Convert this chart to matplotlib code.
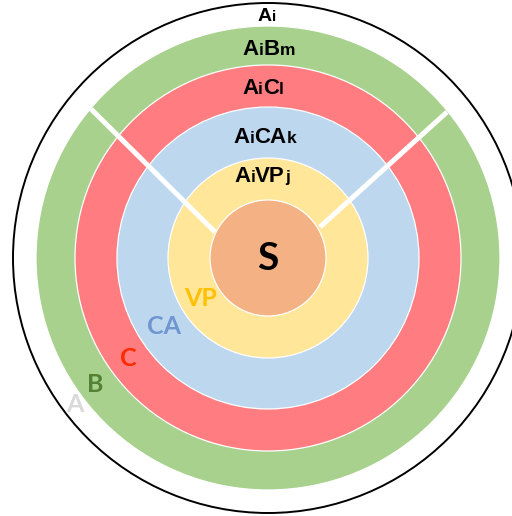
import matplotlib
matplotlib.use("Agg")
import matplotlib.pyplot as plt
from matplotlib.patches import Circle

# rings, outer to inner (radius in px)
ring_radii = [232, 193, 151, 100, 58]
ring_colors = ["#A9D18E", "#FF7C80", "#BDD7EE", "#FFE699", "#F4B183"]

# ring titles: (big part, small part) pairs and baseline y
titles = [
    [("A", "i")],
    [("A", "i"), ("B", "m")],
    [("A", "i"), ("C", "l")],
    [("A", "i"), ("CA", "k")],
    [("A", "i"), ("VP", "j")],
]
title_pos = [(267, 21), (269, 55), (263, 94), (265, 143), (262, 182)]
title_size = [14, 16, 16, 16, 16]

# side labels
side_labels = ["VP", "CA", "C", "B", "A"]
side_pos = [(201, 299), (164, 326), (128, 358), (95, 384), (75, 405)]
side_colors = ["#FFC000", "#7096D1", "#FF2A00", "#548235", "#D9D9D9"]

cx, cy = 268, 258
outer_r = 255

fig = plt.figure(figsize=(5.12, 5.16), dpi=100)
ax = fig.add_axes([0, 0, 1, 1])
ax.set_xlim(0, 512)
ax.set_ylim(516, 0)
ax.set_aspect("equal")
ax.axis("off")

ax.add_patch(Circle((cx, cy), outer_r, facecolor="white", edgecolor="black", lw=1.4))
for r, c in zip(ring_radii[:-1], ring_colors[:-1]):
    ax.add_patch(Circle((cx, cy), r, facecolor=c, edgecolor="white", lw=0.9))

# white spokes
ax.plot([91, 215], [109, 232], color="white", lw=3.6, solid_capstyle="butt")
ax.plot([447, 320], [112, 227], color="white", lw=3.6, solid_capstyle="butt")

ax.add_patch(Circle((cx, cy), ring_radii[-1], facecolor=ring_colors[-1], edgecolor="white", lw=0.9))

ax.text(cx, cy + 1, "S", fontsize=28, fontfamily="Lato", fontweight="bold",
        ha="center", va="center")

# titles with smaller trailing letters on same baseline
fig.canvas.draw()
rend = fig.canvas.get_renderer()
for parts, (x0, y0), fs in zip(titles, title_pos, title_size):
    pieces = []
    for big, small in parts:
        pieces.append((big, fs))
        pieces.append((small, fs * 0.78))
    objs = []
    total = 0
    for s, size in pieces:
        t = ax.text(0, y0, s, fontsize=size, fontfamily="Liberation Sans",
                    fontweight="bold", ha="left", va="baseline")
        w = t.get_window_extent(rend).width
        objs.append((t, w))
        total += w
    x = x0 - total / 2
    for t, w in objs:
        t.set_x(x)
        x += w

for s, (x, y), c in zip(side_labels, side_pos, side_colors):
    ax.text(x, y, s, fontsize=18, fontfamily="Lato", fontweight="bold",
            color=c, ha="center", va="center")

fig.savefig("out.png", dpi=100)
